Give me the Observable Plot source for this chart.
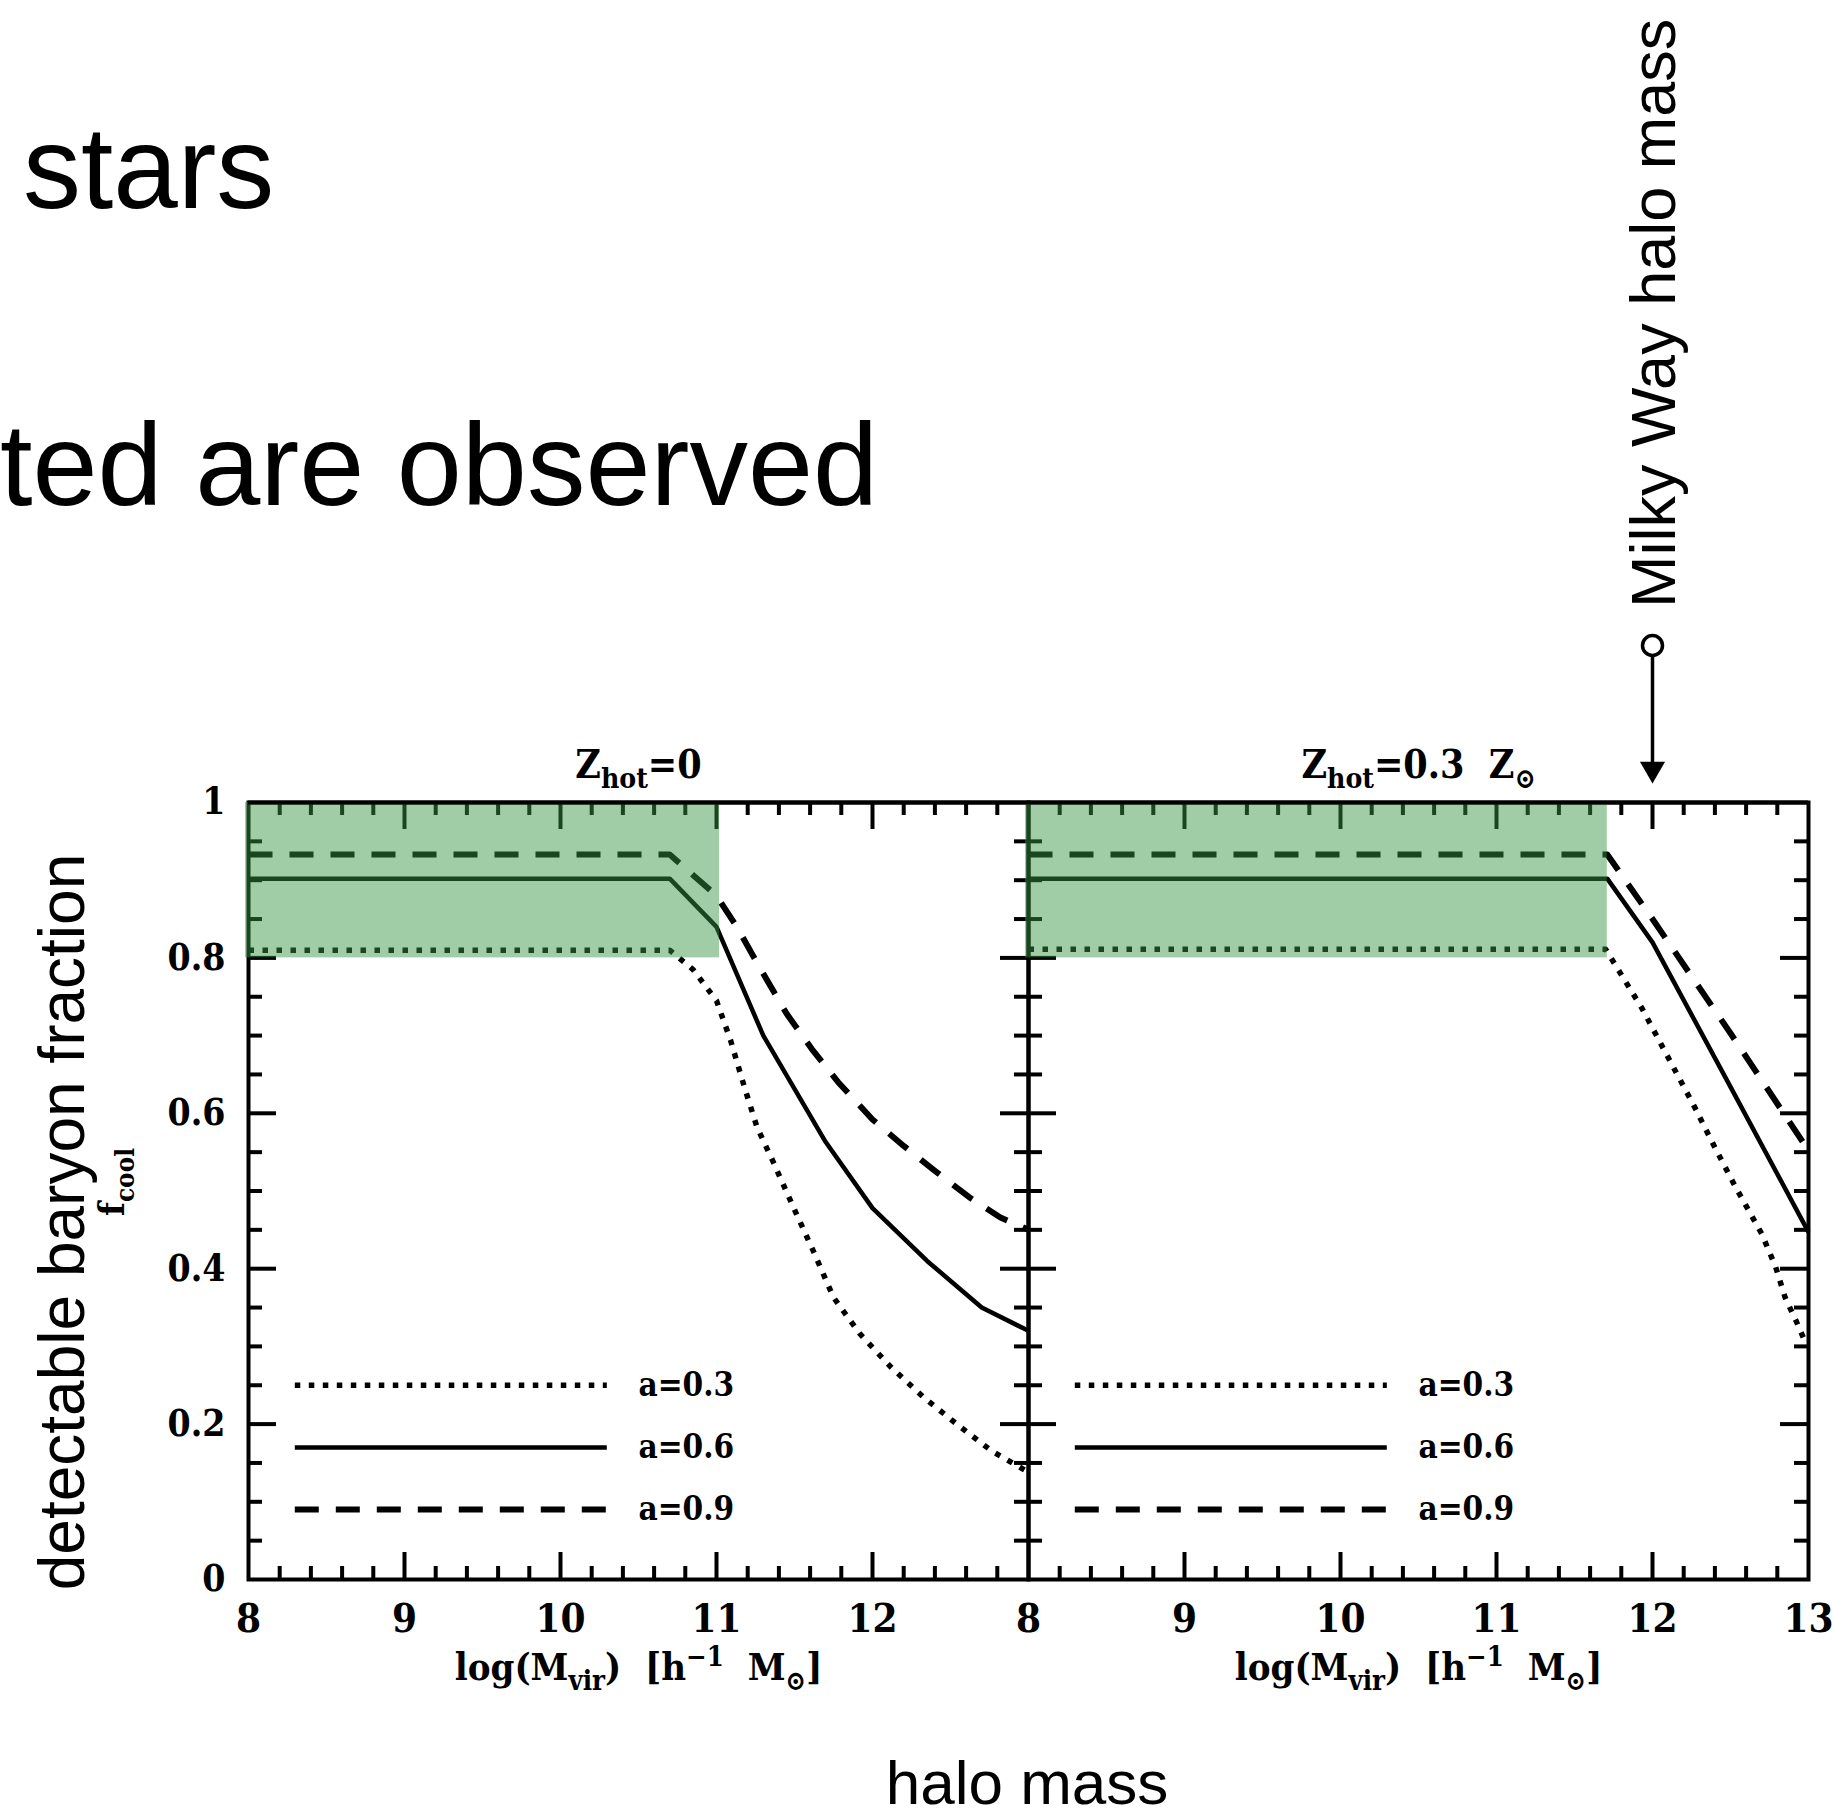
<!DOCTYPE html>
<html><head><meta charset="utf-8">
<script src="https://cdn.jsdelivr.net/npm/d3@7"></script>
<script src="https://cdn.jsdelivr.net/npm/@observablehq/plot@0.6"></script>
<style>
html,body{margin:0;padding:0;background:#fff;}
#chart svg{display:block;}
</style></head><body><div id="chart"></div>
<script>
// ---------------- data ----------------
const panels = ["Zhot=0", "Zhot=0.3 Zsun"];
const seriesLabels = ["a=0.3", "a=0.6", "a=0.9"];

// [log(Mvir), f_cool]  -- left panel, Z_hot = 0
const left_a03 = [[8,0.81],[10.7,0.81],[10.85,0.785],[11.0,0.745],[11.09,0.694],[11.18,0.633],[11.26,0.582],[11.36,0.539],[11.5,0.476],[11.62,0.423],[11.75,0.363],[11.92,0.316],[12.12,0.273],[12.33,0.234],[12.54,0.2],[12.76,0.166],[13,0.138]];
const left_a06 = [[8,0.902],[10.7,0.902],[11.0,0.84],[11.3,0.70],[11.7,0.563],[12.0,0.478],[12.35,0.41],[12.7,0.35],[13,0.32]];
const left_a09 = [[8,0.933],[10.7,0.933],[11.0,0.88],[11.13,0.84],[11.27,0.79],[11.45,0.728],[11.61,0.683],[11.78,0.64],[12.0,0.592],[12.2,0.558],[12.4,0.526],[12.62,0.492],[12.82,0.466],[13,0.45]];
// right panel, Z_hot = 0.3 Zsun
const right_a03 = [[8,0.811],[11.7,0.811],[11.93,0.736],[12.1,0.672],[12.27,0.608],[12.4,0.556],[12.53,0.506],[12.7,0.445],[12.79,0.402],[12.85,0.363],[12.92,0.333],[12.97,0.31]];
const right_a06 = [[8,0.902],[11.71,0.902],[12.0,0.82],[12.5,0.634],[13,0.447]];
const right_a09 = [[8,0.933],[11.71,0.933],[12.0,0.85],[12.5,0.703],[13,0.552]];

// shaded "observed" region
const shadedUpperMass = [11.02, 11.71];
const shadedFraction = [0.8, 1];
const milkyWayLogM = 12;

// ticks and tick labels
const xMajorTicks = [9,10,11,12];
const xMinorTicks = [8.2,8.4,8.6,8.8,9.2,9.4,9.6,9.8,10.2,10.4,10.6,10.8,11.2,11.4,11.6,11.8,12.2,12.4,12.6,12.8];
const yMajorTicks = [0.2,0.4,0.6,0.8];
const yMinorTicks = [0.05,0.1,0.15,0.25,0.3,0.35,0.45,0.5,0.55,0.65,0.7,0.75,0.85,0.9,0.95];
const xTickLabelsLeft = [8,9,10,11,12];
const xTickLabelsRight = [8,9,10,11,12,13];
const yTickValues = [0,0.2,0.4,0.6,0.8,1];
const yTickLabels = ["0","0.2","0.4","0.6","0.8","1"];

// ---------------- layout ----------------
const W = 1833, H = 1817;
const mL = 248, mR = 25, mT = 802, mB = 238;
const frameH = H - mT - mB;
const facetW = (W - mL - mR) / 2;
const ty = px => px / frameH;
const tx = px => px * 5 / facetW;
const yAt = px => (H - mB - px) / frameH;

const FIG = "'DejaVu Serif Condensed','DejaVu Serif',serif";
const SANS = "'Liberation Sans',Arial,Helvetica,sans-serif";

const rows = (arr, panel) => arr.map(([x, f]) => ({x, f, panel}));
const series = [
  {data: [...rows(left_a03, panels[0]), ...rows(right_a03, panels[1])], dash: "5.5,8.5", w: 5.5},
  {data: [...rows(left_a06, panels[0]), ...rows(right_a06, panels[1])], dash: null, w: 4.5},
  {data: [...rows(left_a09, panels[0]), ...rows(right_a09, panels[1])], dash: "24,17", w: 6}
];
const legendY = [0.25, 0.17, 0.09];
const shaded = panels.map((p, i) => ({panel: p, x1: 8, x2: shadedUpperMass[i], y1: shadedFraction[0], y2: shadedFraction[1]}));

const tickW = 4;
const txt = {fontWeight: "bold", fontFamily: FIG, fill: "black"};
const marks = [
  Plot.ruleX(xMajorTicks, {x: d => d, y1: 0, y2: ty(27), stroke: "black", strokeWidth: tickW}),
  Plot.ruleX(xMinorTicks, {x: d => d, y1: 0, y2: ty(13), stroke: "black", strokeWidth: tickW}),
  Plot.ruleX(xMajorTicks, {x: d => d, y1: 1, y2: 1 - ty(27), stroke: "black", strokeWidth: tickW}),
  Plot.ruleX(xMinorTicks, {x: d => d, y1: 1, y2: 1 - ty(13), stroke: "black", strokeWidth: tickW}),
  Plot.ruleY(yMajorTicks, {y: d => d, x1: 8, x2: 8 + tx(28), stroke: "black", strokeWidth: tickW}),
  Plot.ruleY(yMinorTicks, {y: d => d, x1: 8, x2: 8 + tx(14), stroke: "black", strokeWidth: tickW}),
  Plot.ruleY(yMajorTicks, {y: d => d, x1: 13, x2: 13 - tx(28), stroke: "black", strokeWidth: tickW}),
  Plot.ruleY(yMinorTicks, {y: d => d, x1: 13, x2: 13 - tx(14), stroke: "black", strokeWidth: tickW}),
  ...series.map(s => Plot.line(s.data, {x: "x", y: "f", fx: "panel", z: "panel", stroke: "black", strokeWidth: s.w, strokeDasharray: s.dash, strokeLinecap: "butt", strokeLinejoin: "round"})),
  ...series.map((s, i) => Plot.ruleY([legendY[i]], {y: d => d, x1: 8.3, x2: 10.3, stroke: "black", strokeWidth: s.w, strokeDasharray: s.dash})),
  Plot.text(seriesLabels, {x: 10.5, y: (d, i) => legendY[i], text: d => d, textAnchor: "start", lineAnchor: "middle", fontSize: 33, ...txt}),
  Plot.frame({stroke: "black", strokeWidth: 4}),
  Plot.rect(shaded, {x1: "x1", x2: "x2", y1: "y1", y2: "y2", fx: "panel", fill: "rgb(53,149,64)", fillOpacity: 0.47, insetLeft: -3}),
  Plot.ruleY([1], {stroke: "black", strokeWidth: 4}),
  Plot.text(xTickLabelsLeft, {fx: () => panels[0], x: d => d, y: 0, text: d => String(d), dy: 52, lineAnchor: "bottom", fontSize: 40, ...txt}),
  Plot.text(xTickLabelsRight, {fx: () => panels[1], x: d => d, y: 0, text: d => String(d), dy: 52, lineAnchor: "bottom", fontSize: 40, ...txt}),
  Plot.text(yTickValues, {fx: () => panels[0], x: 8, y: d => d, text: (d, i) => yTickLabels[i], dx: -23, textAnchor: "end", lineAnchor: "middle", fontSize: 37, ...txt}),
  Plot.text(panels, {fx: d => d, frameAnchor: "top", text: d => d, dy: -25, lineAnchor: "bottom", fontSize: 39, ...txt}),
  Plot.text(["XLABEL"], {frameAnchor: "bottom", text: d => d, dy: 100, lineAnchor: "bottom", fontSize: 38, ...txt}),
  Plot.text(["FCOOL"], {fx: () => panels[0], frameAnchor: "left", text: d => d, dx: -136, dy: -9, rotate: -90, textAnchor: "middle", lineAnchor: "middle", fontSize: 36, ...txt}),
  Plot.ruleX([milkyWayLogM], {fx: () => panels[1], x: d => d, y1: yAt(655), y2: yAt(766), stroke: "black", strokeWidth: 3.5}),
  Plot.dot([milkyWayLogM], {fx: () => panels[1], x: d => d, y: yAt(768.5), symbol: "triangle2", r: 12, rotate: 180, fill: "black", stroke: "none"}),
  Plot.dot([milkyWayLogM], {fx: () => panels[1], x: d => d, y: yAt(645), r: 10, fill: "white", stroke: "black", strokeWidth: 3.5})
];

const plot = Plot.plot({
  width: W, height: H,
  marginLeft: mL, marginRight: mR, marginTop: mT, marginBottom: mB,
  x: {domain: [8, 13], axis: null},
  y: {domain: [0, 1], axis: null},
  fx: {domain: panels, padding: 0, axis: null},
  style: {background: "white", overflow: "visible", fontFamily: FIG},
  marks
});

function rich(el, parts, base) {
  const sel = d3.select(el);
  sel.text(null);
  let shift = 0;
  for (const [s, m] of parts) {
    const target = m === -1 ? base * 0.28 : m === 1 ? -base * 0.36 : 0;
    const t = sel.append("tspan").text(s).attr("dy", target - shift);
    if (m !== 0) t.attr("font-size", base * 0.72);
    shift = target;
  }
}
const richMap = {
  "Zhot=0": [[["Z",0],["hot",-1],["=0",0]], 39],
  "Zhot=0.3 Zsun": [[["Z",0],["hot",-1],["=0.3\u00a0\u00a0Z",0],["\u2299",-1]], 39],
  "XLABEL": [[["log(M",0],["vir",-1],[")\u00a0\u00a0[h",0],["\u22121",1],["\u00a0\u00a0M",0],["\u2299",-1],["]",0]], 38],
  "FCOOL": [[["f",0],["cool",-1]], 36]
};
plot.querySelectorAll("text").forEach(el => {
  const k = el.textContent;
  if (richMap[k]) rich(el, richMap[k][0], richMap[k][1]);
});

const svg = d3.select(plot);
const big = (t, attrs) => {
  const e = svg.append("text").text(t).attr("font-family", SANS).attr("fill", "black").attr("text-anchor", "start");
  for (const k in attrs) e.attr(k, attrs[k]);
};
big("stars", {x: 23, y: 208, "font-size": 116});
big("ted are observed", {x: 0, y: 505, "font-size": 117});
big("detectable baryon fraction", {transform: "translate(84,1222) rotate(-90)", "text-anchor": "middle", "font-size": 64});
big("Milky Way halo mass", {transform: "translate(1675,608) rotate(-90)", "font-size": 63});
big("halo mass", {x: 1027, y: 1804, "text-anchor": "middle", "font-size": 62});

document.getElementById("chart").appendChild(plot);
</script>
</body></html>
